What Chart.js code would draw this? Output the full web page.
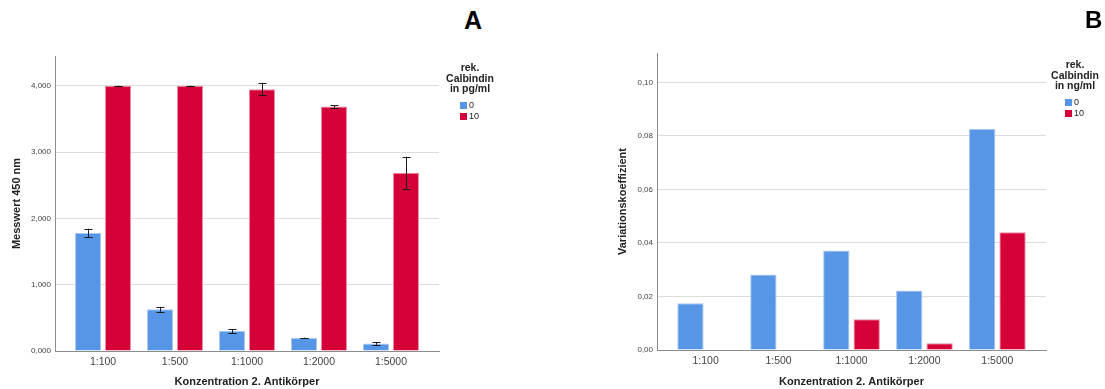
<!DOCTYPE html>
<html>
<head>
<meta charset="utf-8">
<title>Calbindin ELISA</title>
<script src="https://cdn.jsdelivr.net/npm/chart.js@4.4.1/dist/chart.umd.min.js"></script>
<style>
  html, body { margin: 0; padding: 0; background: #fff; }
  #wrap { position: relative; width: 1105px; height: 389px; overflow: hidden; font-family: "Liberation Sans", Arial, sans-serif; }
  canvas { position: absolute; top: 0; }
  #chartA { left: 0; }
  #chartB { left: 545px; }
  .panel { position: absolute; font-weight: bold; color: #000; }
  .legend { position: absolute; color: #222; }
  .legend .ttl { font-weight: bold; font-size: 10.5px; line-height: 10.5px; text-align: center; }
  .legend .item { font-size: 9px; line-height: 11px; white-space: nowrap; }
  .legend .sw { display: inline-block; width: 7px; height: 7px; margin-right: 2px; vertical-align: -1px; }
</style>
</head>
<body>
<div id="wrap">
  <canvas id="chartA" width="450" height="389"></canvas>
  <canvas id="chartB" width="560" height="389"></canvas>
  <div class="panel" style="left:464px; top:6px; font-size:25px;">A</div>
  <div class="panel" style="left:1085px; top:6px; font-size:24px;">B</div>
  <div class="legend" id="legA" style="left:440px; top:62px; width:60px;"></div>
  <div class="legend" id="legB" style="left:1045px; top:59px; width:60px;"></div>
</div>
<script>
// dilution of the secondary antibody
const dilutions = ["1:100", "1:500", "1:1000", "1:2000", "1:5000"];
const groups = ["0", "10"];

// panel A: mean OD at 450 nm, +/- error
const odNull = [1.78, 0.63, 0.30, 0.195, 0.115];
const odNullErr = [0.065, 0.037, 0.03, 0.006, 0.022];
const odTen = [4.0, 4.0, 3.95, 3.69, 2.69];
const odTenErr = [0.002, 0.002, 0.095, 0.02, 0.24];
const odTicks = [0, 1, 2, 3, 4];

// panel B: coefficient of variation
const cvNull = [0.0175, 0.0282, 0.0372, 0.0222, 0.0826];
const cvTen = [0, 0, 0.0115, 0.0025, 0.044];
const cvTicks = [0, 0.02, 0.04, 0.06, 0.08, 0.10];

const BLUE = "#5796e6";
const RED = "#d60038";
const FONT = "'Liberation Sans', Arial, sans-serif";

Chart.defaults.font.family = FONT;
Chart.defaults.color = "#444";

function toPoints(vals) {
  return vals.map((v, i) => ({ x: i, y: v }));
}

// draws whiskers with caps from the dataset's `errors` array
const errorBars = {
  id: "errorBars",
  afterDatasetsDraw(chart) {
    const ctx = chart.ctx;
    const yScale = chart.scales.y;
    chart.data.datasets.forEach((ds, di) => {
      if (!ds.errors) return;
      chart.getDatasetMeta(di).data.forEach((bar, i) => {
        const v = ds.data[i].y;
        const e = ds.errors[i];
        const top = yScale.getPixelForValue(v + e);
        const bot = yScale.getPixelForValue(v - e);
        const x = Math.round(bar.x) + 0.5;
        ctx.save();
        ctx.strokeStyle = "#1a1a1a";
        ctx.lineWidth = 1;
        ctx.beginPath();
        ctx.moveTo(x, top);
        ctx.lineTo(x, bot);
        ctx.moveTo(x - 4, Math.round(top) + 0.5);
        ctx.lineTo(x + 4, Math.round(top) + 0.5);
        ctx.moveTo(x - 4, Math.round(bot) + 0.5);
        ctx.lineTo(x + 4, Math.round(bot) + 0.5);
        ctx.stroke();
        ctx.restore();
      });
    });
  },
};

function makeChart(el, cfg) {
  const datasets = [
    {
      label: groups[0],
      data: toPoints(cfg.blue),
      errors: cfg.blueErr,
      backgroundColor: BLUE,
      borderColor: "#a8c8f2",
      borderWidth: 1,
    },
    {
      label: groups[1],
      data: toPoints(cfg.red),
      errors: cfg.redErr,
      backgroundColor: RED,
      borderColor: "#ec8aa2",
      borderWidth: 1,
    },
  ];
  return new Chart(document.getElementById(el), {
    type: "bar",
    data: { datasets },
    plugins: [errorBars],
    options: {
      responsive: false,
      animation: false,
      categoryPercentage: 0.833,
      barPercentage: 0.867,
      layout: { padding: { left: 0, right: cfg.padRight, top: cfg.padTop, bottom: 0 } },
      plugins: { legend: { display: false }, tooltip: { enabled: false } },
      scales: {
        x: {
          type: "linear",
          offset: false,
          min: -0.667,
          max: 4.667,
          afterBuildTicks: (s) => { s.ticks = dilutions.map((d, i) => ({ value: i })); },
          afterFit: (s) => { s.height = cfg.xHeight; },
          grid: { display: true, offset: false, drawOnChartArea: false, drawTicks: false, color: "rgba(0,0,0,0)" },
          border: { display: true, color: "#8c8c8c", width: 1 },
          ticks: {
            autoSkip: false,
            maxRotation: 0,
            padding: 5,
            color: "#444",
            font: { size: 10.5 },
            callback: (v) => dilutions[v],
          },
          title: {
            display: true,
            text: "Konzentration 2. Antikörper",
            color: "#222",
            font: { size: 11, weight: "bold" },
            padding: { top: 0, bottom: 0 },
          },
        },
        y: {
          min: 0,
          max: cfg.yMax,
          afterBuildTicks: (s) => { s.ticks = cfg.ticks.map((v) => ({ value: v })); },
          afterFit: (s) => { s.width = cfg.yWidth; },
          grid: { color: "#dcdcdc", lineWidth: 1, drawTicks: false },
          border: { display: true, color: "#8c8c8c", width: 1 },
          ticks: {
            padding: 4,
            color: "#444",
            font: { size: 8 },
            callback: (v) => v.toFixed(cfg.digits).replace(".", ","),
          },
          title: {
            display: true,
            text: cfg.yTitle,
            color: "#222",
            font: { size: 11, weight: "bold" },
            padding: { top: cfg.yTitlePad, bottom: 0 },
          },
        },
      },
    },
  });
}

makeChart("chartA", {
  blue: odNull, blueErr: odNullErr,
  red: odTen, redErr: odTenErr,
  yMax: 4.45, ticks: odTicks, digits: 3,
  yTitle: "Messwert 450 nm", yTitlePad: 10,
  yWidth: 55, xHeight: 38, padRight: 11, padTop: 56,
});

makeChart("chartB", {
  blue: cvNull, red: cvTen,
  yMax: 0.111, ticks: cvTicks, digits: 2,
  yTitle: "Variationskoeffizient", yTitlePad: 71,
  yWidth: 112, xHeight: 39, padRight: 59, padTop: 53,
});

// legends
function buildLegend(id, unit) {
  const cols = [BLUE, RED];
  document.getElementById(id).innerHTML =
    '<div class="ttl">rek.<br>Calbindin<br>in ' + unit + '</div>' +
    '<div style="margin:6px 0 0 20px">' +
    groups.map((g, i) =>
      '<div class="item"><span class="sw" style="background:' + cols[i] + '"></span>' + g + '</div>'
    ).join("") +
    "</div>";
}
buildLegend("legA", "pg/ml");
buildLegend("legB", "ng/ml");
</script>
</body>
</html>
